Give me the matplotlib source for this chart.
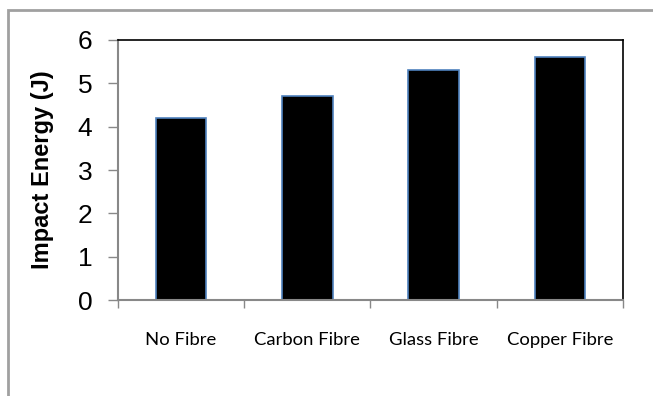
import matplotlib
matplotlib.use("Agg")
import matplotlib.pyplot as plt
from matplotlib.patches import Rectangle

categories = ["No Fibre", "Carbon Fibre", "Glass Fibre", "Copper Fibre"]
impact_energy = [4.2, 4.7, 5.3, 5.6]
y_ticks = [0, 1, 2, 3, 4, 5, 6]

fig = plt.figure(figsize=(6.53, 3.96), dpi=100)
ax = fig.add_axes([0.1807, 0.2424, 0.7733, 0.6566])

x = range(len(categories))
ax.bar(x, impact_energy, width=0.4, color="black", edgecolor="#4f81bd", linewidth=1.2)

ax.set_xlim(-0.5, len(categories) - 0.5)
ax.set_ylim(0, 6)
ax.set_yticks(y_ticks)
ax.set_yticklabels([str(v) for v in y_ticks], fontfamily="Liberation Sans", fontsize=19)

# category labels sit between boundary ticks
ax.set_xticks([i - 0.5 for i in range(len(categories) + 1)])
ax.set_xticklabels([])
ax.set_xticks(list(x), minor=True)
ax.set_xticklabels(categories, minor=True, fontfamily="Lato", fontsize=13.3)
ax.tick_params(axis="x", which="minor", length=0, pad=23)
ax.tick_params(axis="x", which="major", length=6, width=1, color="#888888", direction="out")
ax.tick_params(axis="y", length=7, width=1, color="#888888", pad=11.5)

ax.set_ylabel("Impact Energy (J)", fontfamily="Liberation Sans", fontweight="bold",
              fontsize=17, labelpad=17)

for side in ("left", "bottom"):
    ax.spines[side].set_color("#888888")
    ax.spines[side].set_linewidth(1.5)
for side in ("top", "right"):
    ax.spines[side].set_color("black")
    ax.spines[side].set_linewidth(1.2)

# outer chart frame (only left and top edges fall inside the image)
fig.patches.append(Rectangle((8 / 653, -0.1), 1.2, (386 / 396) + 0.1,
                             transform=fig.transFigure, fill=False,
                             edgecolor="#a0a0a0", linewidth=2))

fig.savefig("out.png", dpi=100)
